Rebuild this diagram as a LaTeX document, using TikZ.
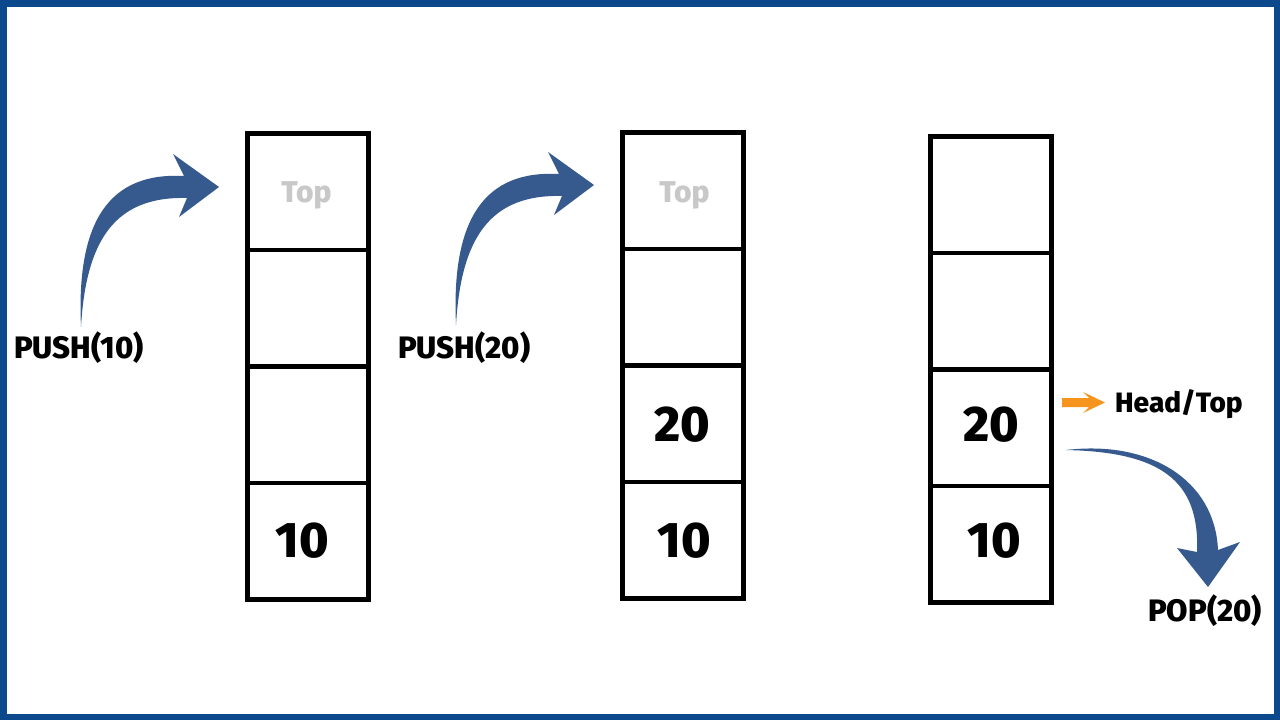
\documentclass[tikz,border=0pt]{standalone}
\usepackage{fontspec}
\setmainfont{Fira Sans}[BoldFont={Fira Sans ExtraBold}]
\definecolor{frameblue}{RGB}{12,72,140}
\definecolor{arrowblue}{RGB}{54,90,142}
\definecolor{toporange}{RGB}{247,148,29}
\definecolor{topgray}{RGB}{200,200,200}
\begin{document}
\begin{tikzpicture}[x=1pt,y=-1pt,
  cell/.style={draw=black,line width=4.5pt,minimum width=121pt,minimum height=116.5pt,inner sep=0pt},
  val/.style={anchor=base,inner sep=0pt,font=\fontsize{50}{60}\selectfont\bfseries},
  toplbl/.style={anchor=base,inner sep=0pt,text=topgray,font=\fontsize{30}{36}\selectfont\bfseries},
  oplbl/.style={anchor=base west,inner sep=0pt,font=\fontsize{31}{37}\selectfont\bfseries},
  headlbl/.style={anchor=base west,inner sep=0pt,font=\fontsize{28}{34}\selectfont\bfseries},
  bigarrow/.style={fill=arrowblue}]
\useasboundingbox (0,0) rectangle (1280,720);
\fill[white] (0,0) rectangle (1280,720);
\draw[frameblue,line width=6.5pt] (3.25,3.25) rectangle (1276.75,716.75);

% stack 1
\node[cell] (a1) at (308,191.75) {};
\node[cell] (a2) at (308,308.25) {};
\node[cell] (a3) at (308,424.75) {};
\node[cell] (a4) at (308,541.25) {};
% stack 2
\node[cell] (b1) at (683,190.75) {};
\node[cell] (b2) at (683,307.25) {};
\node[cell] (b3) at (683,423.75) {};
\node[cell] (b4) at (683,540.25) {};
% stack 3
\node[cell] (c1) at (991,194.75) {};
\node[cell] (c2) at (991,311.25) {};
\node[cell] (c3) at (991,427.75) {};
\node[cell] (c4) at (991,544.25) {};

% cell texts
\node[toplbl] (ta) at (306.5,202) {Top};
\node[toplbl] (tb) at (684.5,202) {Top};
\node[val] (va4) at (302.5,557) {10};
\node[val] (vb3) at (682,441) {20};
\node[val] (vb4) at (684.5,557) {10};
\node[val] (vc3) at (991,441) {20};
\node[val] (vc4) at (994.5,557) {10};

% operation labels
\node[oplbl] (push1) at (14,358) {PUSH(10)};
\node[oplbl] (push2) at (398,358) {PUSH(20)};
\node[headlbl] (head) at (1115,412) {Head/Top};
\node[oplbl] (pop) at (1148,621) {POP(20)};

% curved push arrows
\fill[bigarrow] (81,327) .. controls (76,220) and (110,172) .. (184,176)
  -- (173,154) -- (219,187) -- (179,217) -- (187,198)
  .. controls (115,196) and (86,240) .. (81,327) -- cycle;
\begin{scope}[shift={(375,-2)}]
\fill[bigarrow] (81,327) .. controls (76,220) and (110,172) .. (184,176)
  -- (173,154) -- (219,187) -- (179,217) -- (187,198)
  .. controls (115,196) and (86,240) .. (81,327) -- cycle;
\end{scope}

% pop arrow
\fill[bigarrow] (1066,450) .. controls (1150,440) and (1215,480) .. (1218,550)
  -- (1240,542) -- (1208,587) -- (1177,548) -- (1197,552)
  .. controls (1200,480) and (1160,452) .. (1066,450) -- cycle;

% orange head arrow
\fill[toporange] (1062,398) -- (1089,398) -- (1083,392) -- (1105,402.5)
  -- (1083,413) -- (1089,407) -- (1062,407) -- cycle;
\end{tikzpicture}
\end{document}
